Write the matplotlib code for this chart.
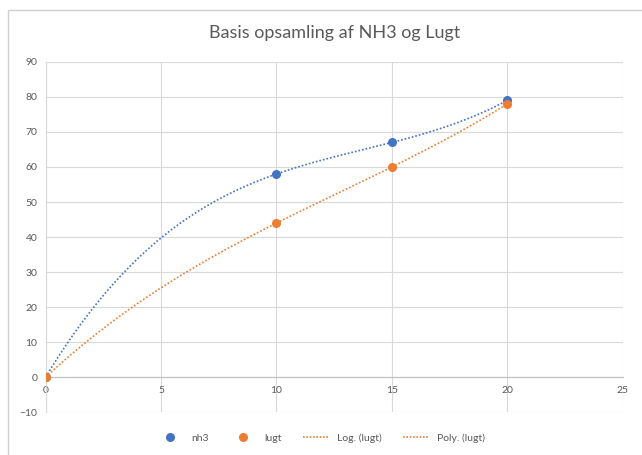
import numpy as np
import matplotlib.pyplot as plt
from matplotlib.patches import Rectangle

# data
x_vals = [0, 10, 15, 20]
nh3 = [0, 58, 67, 79]
lugt = [0, 44, 60, 78]
x_ticks = [0, 5, 10, 15, 20, 25]
y_ticks = [-10, 0, 10, 20, 30, 40, 50, 60, 70, 80, 90]

blue = '#4472C4'
orange = '#ED7D31'
grey_txt = '#595959'

plt.rcParams['font.family'] = ['Lato', 'DejaVu Sans']

fig = plt.figure(figsize=(6.42, 4.55), dpi=100)
ax = fig.add_axes([0.071, 0.094, 0.899, 0.770])

# chart border like excel
fig.patches.append(Rectangle((8 / 642, -0.05), 1.1, 1 - 10 / 455 + 0.05,
                             transform=fig.transFigure, fill=False,
                             edgecolor='#d0d0d0', linewidth=1.0))

# trendlines (polynomial fit through the points)
xs = np.linspace(0, 20, 200)
p_nh3 = np.polyfit(x_vals, nh3, 3)
p_lugt = np.polyfit(x_vals, lugt, 3)
ax.plot(xs, np.polyval(p_nh3, xs), linestyle=(0, (1, 1.2)), color=blue, linewidth=1.2, zorder=2)
ax.plot(xs, np.polyval(p_lugt, xs), linestyle=(0, (1, 1.2)), color=orange, linewidth=1.2, zorder=2)

ax.scatter(x_vals, nh3, s=30, color=blue, zorder=3, label='nh3')
ax.scatter(x_vals, lugt, s=30, color=orange, zorder=3, label='lugt')

ax.set_xlim(0, 25)
ax.set_ylim(-10, 90)
ax.set_xticks(x_ticks)
ax.set_yticks(y_ticks)
ax.grid(True, color='#d9d9d9', linewidth=0.8)
ax.set_axisbelow(True)

for s in ['top', 'right']:
    ax.spines[s].set_visible(False)
ax.spines['bottom'].set_position(('data', 0))
ax.spines['bottom'].set_color('#bfbfbf')
ax.spines['left'].set_color('#d9d9d9')
ax.tick_params(length=0, labelsize=7.5, labelcolor=grey_txt, pad=6)

ax.set_title('Basis opsamling af NH3 og Lugt', fontsize=13, color=grey_txt, pad=17)

# legend
h1 = plt.Line2D([], [], marker='o', linestyle='none', color=blue, markersize=5.5)
h2 = plt.Line2D([], [], marker='o', linestyle='none', color=orange, markersize=5.5)
h3 = plt.Line2D([], [], linestyle=(0, (1, 1)), color=orange, linewidth=1.2)
h4 = plt.Line2D([], [], linestyle=(0, (1, 1)), color=orange, linewidth=1.2)
fig.legend([h1, h2, h3, h4], ['nh3', 'lugt', 'Log. (lugt)', 'Poly. (lugt)'],
           loc='center', bbox_to_anchor=(0.5, 0.037), ncol=4, frameon=False,
           fontsize=7.5, labelcolor=grey_txt, handlelength=2.5, columnspacing=2.0)

plt.savefig('out.png', dpi=100)
